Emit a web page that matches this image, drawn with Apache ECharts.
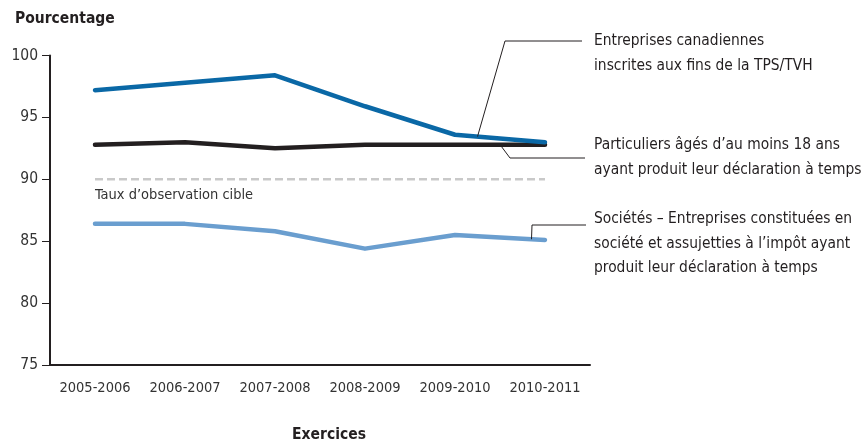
<!DOCTYPE html>
<html>
<head>
<meta charset="utf-8">
<script src="https://cdn.jsdelivr.net/npm/echarts@6/dist/echarts.min.js"></script>
<style>
  html, body { margin: 0; padding: 0; background: #fff; }
  #chart { width: 863px; height: 442px; }
</style>
</head>
<body>
<div id="chart"></div>
<script>
// Fiscal years on the category axis
const years = ['2005-2006', '2006-2007', '2007-2008', '2008-2009', '2009-2010', '2010-2011'];

// Percentage of filers / registrants, per fiscal year
const tpsTvh = [97.2, 97.8, 98.4, 95.9, 93.6, 93.0];
const particuliers = [92.8, 93.0, 92.5, 92.8, 92.8, 92.8];
const societes = [86.4, 86.4, 85.8, 84.4, 85.5, 85.1];
const cible = [90, 90, 90, 90, 90, 90];

const yTicks = [75, 80, 85, 90, 95, 100];

const FONT = '"Liberation Sans Narrow", "DejaVu Sans Condensed", "Liberation Sans", sans-serif';
const TEXT = '#231f20';

const chart = echarts.init(document.getElementById('chart'));

const lineStyle = (color, width) => ({ color: color, width: width, cap: 'round', join: 'round' });

chart.setOption({
  animation: false,
  grid: { left: 50, right: 273, top: 55.5, bottom: 77 },
  xAxis: {
    type: 'category',
    data: years,
    boundaryGap: true,
    axisLine: { lineStyle: { color: TEXT, width: 2 } },
    axisTick: { alignWithLabel: true, length: 8, lineStyle: { color: TEXT, width: 1 } },
    axisLabel: { interval: 0, color: '#333', fontFamily: FONT, fontSize: 14.5, margin: 16 }
  },
  yAxis: {
    type: 'value',
    min: yTicks[0],
    max: yTicks[yTicks.length - 1],
    interval: 5,
    splitLine: { show: false },
    axisLine: { show: true, lineStyle: { color: TEXT, width: 2 } },
    axisTick: { show: true, length: 8, lineStyle: { color: TEXT, width: 1 } },
    axisLabel: { color: '#333', fontFamily: FONT, fontSize: 15.5, margin: 12 }
  },
  series: [
    {
      name: 'cible', type: 'line', data: cible, symbol: 'none', z: 1,
      lineStyle: { color: '#c9c9c9', width: 2.5, type: [8, 4] }
    },
    {
      name: 'societes', type: 'line', data: societes, symbol: 'none', z: 2,
      lineStyle: lineStyle('#6a9ecf', 4.5)
    },
    {
      name: 'particuliers', type: 'line', data: particuliers, symbol: 'none', z: 3,
      lineStyle: lineStyle('#231f20', 4.5)
    },
    {
      name: 'tps', type: 'line', data: tpsTvh, symbol: 'none', z: 4,
      lineStyle: lineStyle('#0a68a6', 4.5)
    }
  ]
});

// Point on a series between two categories (t = fraction from index i to i+1)
function along(values, i, t) {
  const a = chart.convertToPixel({ gridIndex: 0 }, [i, values[i]]);
  const b = chart.convertToPixel({ gridIndex: 0 }, [i + 1, values[i + 1]]);
  return [a[0] + (b[0] - a[0]) * t, a[1] + (b[1] - a[1]) * t];
}

const pTps = along(tpsTvh, 4, 0.25);
const pPart = along(particuliers, 4, 0.5);
const pSoc = along(societes, 4, 0.85);
const pCible = chart.convertToPixel({ gridIndex: 0 }, [0, cible[0]]);

const leader = (pts) => ({
  type: 'polyline',
  shape: { points: pts },
  style: { stroke: TEXT, lineWidth: 1, fill: null },
  z: 10
});

const note = (x, y, txt) => ({
  type: 'text',
  x: x, y: y,
  style: { text: txt, fill: TEXT, font: '15.4px ' + FONT, lineHeight: 24.5, textVerticalAlign: 'top' },
  z: 10
});

chart.setOption({
  graphic: [
    { type: 'text', x: 15, y: 11, style: { text: 'Pourcentage', fill: TEXT, font: 'bold 15.5px ' + FONT }, z: 10 },
    {
      type: 'text', x: 329, y: 435,
      style: { text: 'Exercices', fill: TEXT, font: 'bold 15.5px ' + FONT, textAlign: 'center', textVerticalAlign: 'middle' },
      z: 10
    },
    leader([pTps, [505, 41], [582, 41]]),
    leader([pPart, [510, 158], [585, 158]]),
    leader([pSoc, [532, 225], [586, 225]]),
    note(594, 29, 'Entreprises canadiennes\ninscrites aux fins de la TPS/TVH'),
    note(594, 133, 'Particuliers âgés d’au moins 18 ans\nayant produit leur déclaration à temps'),
    note(594, 207, 'Sociétés – Entreprises constituées en\nsociété et assujetties à l’impôt ayant\nproduit leur déclaration à temps'),
    {
      type: 'text', x: pCible[0], y: pCible[1] + 8,
      style: { text: 'Taux d’observation cible', fill: '#333', font: '14.5px ' + FONT },
      z: 10
    }
  ]
});
</script>
</body>
</html>
